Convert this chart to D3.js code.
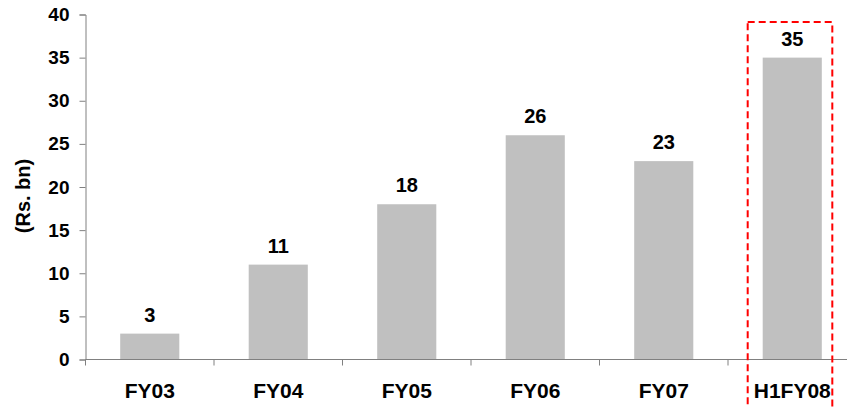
<!DOCTYPE html>
<html>
<head>
<meta charset="utf-8">
<script src="https://cdn.jsdelivr.net/npm/d3@7"></script>
<style>
  html, body { margin: 0; padding: 0; background: #fff; }
  svg { display: block; }
  text { font-family: "Liberation Sans", Arial, sans-serif; font-weight: bold; fill: #000; }
</style>
</head>
<body>
<svg id="chart" width="847" height="407"></svg>
<script>
const categories = ["FY03", "FY04", "FY05", "FY06", "FY07", "H1FY08"];
const values = [3, 11, 18, 26, 23, 35];
const yTicks = [0, 5, 10, 15, 20, 25, 30, 35, 40];
const yTitle = "(Rs. bn)";
const highlight = "H1FY08";

const svg = d3.select("#chart");
const plotLeft = 85.5, plotRight = 856.5, plotTop = 14.5, plotBottom = 359.5;

const x = d3.scaleBand().domain(categories).range([plotLeft, plotRight])
  .paddingInner(0.54).paddingOuter(0.27);
const y = d3.scaleLinear().domain([0, 40]).range([plotBottom, plotTop]);

// Bars
svg.append("g").selectAll("rect").data(values).join("rect")
  .attr("x", (d, i) => x(categories[i]))
  .attr("width", x.bandwidth())
  .attr("y", d => y(d))
  .attr("height", d => y(0) - y(d))
  .attr("fill", "#C0C0C0");

// Y axis
const yAxis = svg.append("g").attr("transform", `translate(${plotLeft},0)`)
  .call(d3.axisLeft(y).tickValues(yTicks).tickSize(6).tickPadding(10).tickFormat(d3.format("d")));
yAxis.select(".domain").attr("stroke", "#808080").attr("stroke-width", 1);
yAxis.selectAll(".tick line").attr("stroke", "#808080");
yAxis.selectAll("text").style("font-size", "19px").attr("fill", "#000")
  .style("font-family", "'Liberation Sans', Arial, sans-serif").style("font-weight", "bold");

// X axis: boundary ticks
const step = x.step();
const boundaries = d3.range(categories.length + 1).map(i => plotLeft + i * step);
svg.append("line").attr("x1", plotLeft).attr("x2", 847).attr("y1", plotBottom).attr("y2", plotBottom)
  .attr("stroke", "#808080").attr("stroke-width", 1);
svg.append("g").selectAll("line").data(boundaries).join("line")
  .attr("x1", d => d).attr("x2", d => d)
  .attr("y1", plotBottom).attr("y2", plotBottom + 6)
  .attr("stroke", "#808080");

svg.append("g").selectAll("text").data(categories).join("text")
  .attr("x", d => x(d) + x.bandwidth() / 2)
  .attr("y", 398)
  .attr("text-anchor", "middle")
  .style("font-size", "21px")
  .text(d => d);

// Value labels
svg.append("g").selectAll("text").data(values).join("text")
  .attr("x", (d, i) => x(categories[i]) + x.bandwidth() / 2)
  .attr("y", d => y(d) - 12)
  .attr("text-anchor", "middle")
  .style("font-size", "20px")
  .text(d => d);

// Y title
svg.append("text")
  .attr("transform", `translate(30,196) rotate(-90)`)
  .attr("text-anchor", "middle")
  .style("font-size", "20px")
  .text(yTitle);

// Highlight box
const hx = x(highlight);
svg.append("rect")
  .attr("x", hx - 15)
  .attr("y", 22)
  .attr("width", x.bandwidth() + 25.5)
  .attr("height", 420)
  .attr("fill", "none")
  .attr("stroke", "#FF0000")
  .attr("stroke-width", 2)
  .attr("stroke-dasharray", "7,4");
</script>
</body>
</html>
